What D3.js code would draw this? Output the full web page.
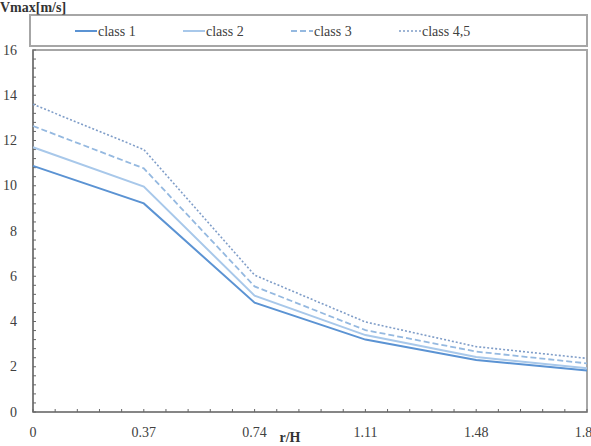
<!DOCTYPE html>
<html>
<head>
<meta charset="utf-8">
<script src="https://cdn.jsdelivr.net/npm/d3@7"></script>
<style>
  body { margin: 0; background: #fff; }
</style>
</head>
<body>
<svg id="chart" width="591" height="446"></svg>
<script>
// chart data
const xValues = [0, 0.37, 0.74, 1.11, 1.48, 1.85];
const xTickLabels = ["0", "0.37", "0.74", "1.11", "1.48", "1.85"];
const yTicks = [0, 2, 4, 6, 8, 10, 12, 14, 16];
const seriesNames = ["class 1", "class 2", "class 3", "class 4,5"];
const class1 = [10.88, 9.22, 4.83, 3.2, 2.3, 1.83];
const class2 = [11.7, 9.96, 5.14, 3.4, 2.43, 1.93];
const class3 = [12.64, 10.77, 5.55, 3.62, 2.67, 2.15];
const class45 = [13.6, 11.6, 6.05, 3.98, 2.89, 2.37];

const colors = ["#5b93d3", "#a8c8ea", "#95b9e0", "#7f9dc8"];
const dashes = [null, null, "6,3", "2,2"];
const widths = [2, 2, 1.8, 1.6];
const serif = "'Times New Roman', 'Liberation Serif', 'DejaVu Serif', serif";

const svg = d3.select('#chart')
    .style('font-family', serif);
const pLeft = 33, pRight = 587, pTop = 50, pBottom = 412;

const x = d3.scaleLinear().domain([0, 1.85]).range([pLeft, pRight]);
const y = d3.scaleLinear().domain([0, 16]).range([pBottom, pTop]);

// frames
svg.append('rect')
    .attr('x', 30).attr('y', 15).attr('width', 557).attr('height', 31)
    .attr('fill', 'none').attr('stroke', '#a6a6a6').attr('stroke-width', 2);
svg.append('rect')
    .attr('x', pLeft).attr('y', pTop).attr('width', pRight - pLeft).attr('height', pBottom - pTop)
    .attr('fill', 'none').attr('stroke', '#a6a6a6').attr('stroke-width', 2);

// minor ticks
const yMinor = d3.range(0, 16.01, 0.4);
svg.append('g').selectAll('line').data(yMinor).enter().append('line')
    .attr('x1', pLeft).attr('x2', pLeft + 3)
    .attr('y1', d => y(d)).attr('y2', d => y(d))
    .attr('stroke', '#666').attr('stroke-width', 1);
const xMinor = d3.range(0, 1.8501, 0.074);
svg.append('g').selectAll('line').data(xMinor).enter().append('line')
    .attr('x1', d => x(d)).attr('x2', d => x(d))
    .attr('y1', pBottom).attr('y2', pBottom - 3)
    .attr('stroke', '#666').attr('stroke-width', 1);

// axis lines
svg.append('line').attr('x1', pLeft).attr('x2', pLeft).attr('y1', pTop).attr('y2', pBottom)
    .attr('stroke', '#666').attr('stroke-width', 1.2);
svg.append('line').attr('x1', pLeft).attr('x2', pRight).attr('y1', pBottom).attr('y2', pBottom)
    .attr('stroke', '#666').attr('stroke-width', 1.2);

// tick labels
svg.append('g').selectAll('text').data(yTicks).enter().append('text')
    .attr('x', 17).attr('y', d => y(d) + 4.5)
    .attr('text-anchor', 'end').attr('font-size', 14).attr('fill', '#404040')
    .text(d => d);
svg.append('g').selectAll('text').data(xValues).enter().append('text')
    .attr('x', d => x(d)).attr('y', 437)
    .attr('text-anchor', 'middle').attr('font-size', 14).attr('fill', '#404040')
    .text((d, i) => xTickLabels[i]);

// axis titles
svg.append('text').attr('x', 0).attr('y', 12)
    .attr('font-size', 14).attr('font-weight', 'bold').attr('fill', '#333')
    .text('Vmax[m/s]');
svg.append('text').attr('x', 290).attr('y', 442)
    .attr('text-anchor', 'middle').attr('font-size', 14).attr('font-weight', 'bold').attr('fill', '#333')
    .text('r/H');

// lines
const series = [class1, class2, class3, class45];
const line = d3.line().x((d, i) => x(xValues[i])).y(d => y(d));
series.forEach(function(s, k) {
    svg.append('path').datum(s)
        .attr('d', line)
        .attr('fill', 'none')
        .attr('stroke', colors[k])
        .attr('stroke-width', widths[k])
        .attr('stroke-dasharray', dashes[k]);
});

// legend
const legendX = [75, 183, 291, 399];
seriesNames.forEach(function(name, k) {
    svg.append('line')
        .attr('x1', legendX[k]).attr('x2', legendX[k] + 22)
        .attr('y1', 31).attr('y2', 31)
        .attr('stroke', colors[k]).attr('stroke-width', widths[k])
        .attr('stroke-dasharray', dashes[k]);
    svg.append('text')
        .attr('x', legendX[k] + 23).attr('y', 35.5)
        .attr('font-size', 14).attr('fill', '#404040')
        .text(name);
});
</script>
</body>
</html>
